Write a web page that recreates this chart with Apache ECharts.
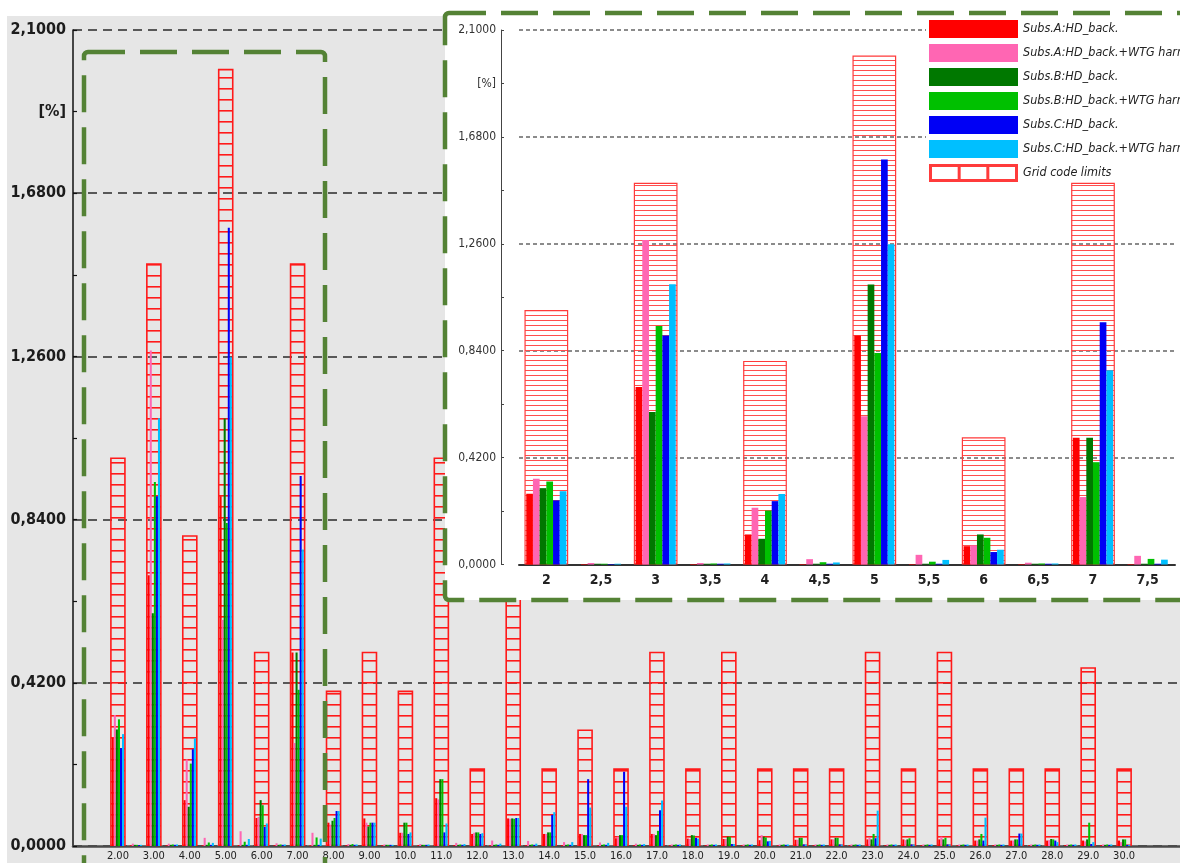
<!DOCTYPE html>
<html>
<head>
<meta charset="utf-8">
<script src="https://cdn.jsdelivr.net/npm/echarts@6/dist/echarts.min.js"></script>
<style>
  html, body { margin: 0; padding: 0; background: #ffffff; }
  #chart { width: 1180px; height: 863px; }
</style>
</head>
<body>
<div id="chart"></div>
<script>
// Harmonic orders (integer and inter-harmonic), in half steps from 2 to 30
const orders = ['2', '2.5', '3', '3.5', '4', '4.5', '5', '5.5', '6', '6.5', '7', '7.5',
  '8', '8.5', '9', '9.5', '10', '10.5', '11', '11.5', '12', '12.5', '13', '13.5',
  '14', '14.5', '15', '15.5', '16', '16.5', '17', '17.5', '18', '18.5', '19', '19.5',
  '20', '20.5', '21', '21.5', '22', '22.5', '23', '23.5', '24', '24.5', '25', '25.5',
  '26', '26.5', '27', '27.5', '28', '28.5', '29', '29.5', '30'];

// Harmonic distortion [%] per order
const subsA = [0.278, 0.002, 0.697, 0.002, 0.118, 0.002, 0.900, 0.002, 0.072, 0.002, 0.498, 0.002,
  0.060, 0.002, 0.071, 0.002, 0.034, 0.002, 0.123, 0.002, 0.031, 0.002, 0.071, 0.002,
  0.031, 0.002, 0.031, 0.002, 0.020, 0.002, 0.031, 0.002, 0.019, 0.002, 0.018, 0.002,
  0.015, 0.002, 0.016, 0.002, 0.017, 0.002, 0.017, 0.002, 0.017, 0.002, 0.017, 0.002,
  0.014, 0.002, 0.014, 0.002, 0.014, 0.002, 0.014, 0.002, 0.014];
const subsAWtg = [0.337, 0.006, 1.275, 0.006, 0.223, 0.021, 0.582, 0.038, 0.075, 0.007, 0.265, 0.034,
  0.055, 0.005, 0.060, 0.004, 0.034, 0.005, 0.120, 0.008, 0.034, 0.014, 0.070, 0.013,
  0.031, 0.010, 0.031, 0.009, 0.024, 0.006, 0.031, 0.004, 0.018, 0.004, 0.018, 0.004,
  0.028, 0.004, 0.016, 0.004, 0.017, 0.004, 0.021, 0.004, 0.015, 0.004, 0.024, 0.004,
  0.014, 0.004, 0.014, 0.004, 0.015, 0.004, 0.012, 0.004, 0.010];
const subsB = [0.300, 0.003, 0.599, 0.003, 0.101, 0.003, 1.100, 0.003, 0.118, 0.003, 0.498, 0.003,
  0.065, 0.003, 0.050, 0.003, 0.060, 0.003, 0.172, 0.003, 0.035, 0.003, 0.071, 0.003,
  0.035, 0.003, 0.028, 0.003, 0.028, 0.003, 0.028, 0.003, 0.028, 0.003, 0.024, 0.003,
  0.024, 0.003, 0.021, 0.003, 0.021, 0.003, 0.017, 0.003, 0.017, 0.003, 0.017, 0.003,
  0.017, 0.003, 0.017, 0.003, 0.018, 0.003, 0.017, 0.003, 0.017];
const subsBWtg = [0.326, 0.003, 0.937, 0.004, 0.212, 0.009, 0.831, 0.011, 0.105, 0.004, 0.402, 0.022,
  0.072, 0.005, 0.060, 0.003, 0.060, 0.003, 0.172, 0.004, 0.035, 0.004, 0.070, 0.004,
  0.035, 0.004, 0.028, 0.004, 0.028, 0.004, 0.039, 0.004, 0.027, 0.004, 0.024, 0.004,
  0.022, 0.004, 0.021, 0.004, 0.021, 0.004, 0.031, 0.004, 0.020, 0.004, 0.021, 0.004,
  0.031, 0.004, 0.017, 0.004, 0.017, 0.004, 0.060, 0.004, 0.017];
const subsC = [0.252, 0.002, 0.900, 0.003, 0.249, 0.003, 1.591, 0.003, 0.049, 0.003, 0.952, 0.003,
  0.090, 0.003, 0.060, 0.003, 0.031, 0.003, 0.035, 0.003, 0.031, 0.003, 0.072, 0.003,
  0.080, 0.003, 0.172, 0.003, 0.191, 0.003, 0.092, 0.003, 0.021, 0.003, 0.005, 0.003,
  0.012, 0.003, 0.004, 0.003, 0.004, 0.003, 0.020, 0.003, 0.004, 0.003, 0.004, 0.003,
  0.014, 0.003, 0.032, 0.003, 0.014, 0.003, 0.005, 0.003, 0.003];
const subsCWtg = [0.288, 0.003, 1.101, 0.004, 0.277, 0.008, 1.258, 0.018, 0.058, 0.004, 0.763, 0.019,
  0.090, 0.004, 0.060, 0.003, 0.035, 0.004, 0.058, 0.005, 0.033, 0.006, 0.072, 0.006,
  0.087, 0.010, 0.099, 0.008, 0.101, 0.005, 0.117, 0.004, 0.019, 0.004, 0.005, 0.004,
  0.013, 0.004, 0.004, 0.004, 0.004, 0.004, 0.091, 0.004, 0.004, 0.004, 0.004, 0.004,
  0.073, 0.004, 0.032, 0.004, 0.010, 0.004, 0.010, 0.004, 0.003];
// Grid code limits, defined for integer orders only
const gridLimits = [1.0, null, 1.5, null, 0.8, null, 2.0, null, 0.5, null, 1.5, null,
  0.4, null, 0.5, null, 0.4, null, 1.0, null, 0.2, null, 1.0, null,
  0.2, null, 0.3, null, 0.2, null, 0.5, null, 0.2, null, 0.5, null,
  0.2, null, 0.2, null, 0.2, null, 0.5, null, 0.2, null, 0.5, null,
  0.2, null, 0.2, null, 0.2, null, 0.46, null, 0.2];

// Value axis ticks [%] and its unit caption
const yMax = 2.1;
const yLabelStep = 0.42;
const yTickStep = 0.21;
const unitLabel = '[%]';
const unitAt = 1.89;

// Number of orders shown in the zoomed view (2 .. 7.5)
const zoomCount = 12;

const seriesDefs = [
  { name: 'Subs.A:HD_back.', data: subsA, color: '#ff0000' },
  { name: 'Subs.A:HD_back.+WTG harm.', data: subsAWtg, color: '#ff66b3' },
  { name: 'Subs.B:HD_back.', data: subsB, color: '#007800' },
  { name: 'Subs.B:HD_back.+WTG harm.', data: subsBWtg, color: '#00c000' },
  { name: 'Subs.C:HD_back.', data: subsC, color: '#0000f5' },
  { name: 'Subs.C:HD_back.+WTG harm.', data: subsCWtg, color: '#00bfff' }
];
const limitName = 'Grid code limits';

const FONT = "'Liberation Sans Narrow', 'DejaVu Sans Condensed', 'Roboto', sans-serif";

// the main axis runs from order 1 to 31.5; orders without measurements stay empty
const mainCats = ['1', '1.5'].concat(orders, ['30.5', '31', '31.5']);
const padMain = arr => [null, null].concat(arr, [null, null, null]);
const zoomCats = orders.slice(0, zoomCount);

// horizontal hatching used to fill the limit bars
function hatch(step, lineW, color) {
  const c = document.createElement('canvas');
  c.width = 8; c.height = step;
  const g = c.getContext('2d');
  g.fillStyle = color;
  g.fillRect(0, 0, 8, lineW);
  return { image: c, repeat: 'repeat' };
}

// legend symbol for the limits: red frame with three open cells
function limitIcon() {
  const w = 89, h = 18;
  const c = document.createElement('canvas');
  c.width = w; c.height = h;
  const g = c.getContext('2d');
  g.fillStyle = '#ff3b3b';
  g.fillRect(0, 0, w, h);
  g.fillStyle = '#ffffff';
  const cell = (w - 4 * 3) / 3;
  for (let i = 0; i < 3; i++) {
    g.fillRect(3 + i * (cell + 3), 3, cell, h - 6);
  }
  return 'image://' + c.toDataURL();
}

function yLabel(decSep) {
  return function (v) {
    if (Math.abs(v - unitAt) < 1e-6) return unitLabel;
    const k = Math.round(v / yLabelStep * 1000) / 1000;
    if (Math.abs(k - Math.round(k)) < 1e-6) return v.toFixed(4).replace('.', decSep);
    return '';
  };
}

const chart = echarts.init(document.getElementById('chart'), null, { renderer: 'canvas' });

const series = [];
// main view
series.push({
  type: 'bar', name: limitName, xAxisIndex: 1, yAxisIndex: 0,
  data: padMain(gridLimits), barWidth: '87%', z: 2, silent: true,
  itemStyle: { color: hatch(11, 1.6, '#ff1a1a'), borderColor: '#ff1a1a', borderWidth: 1.6 }
});
seriesDefs.forEach(s => series.push({
  type: 'bar', name: s.name, xAxisIndex: 0, yAxisIndex: 0,
  data: padMain(s.data), barWidth: 2.05, barGap: '0%', z: 3, silent: true,
  itemStyle: { color: s.color }
}));
// zoomed view
series.push({
  type: 'bar', name: limitName, xAxisIndex: 3, yAxisIndex: 2,
  data: gridLimits.slice(0, zoomCount), barWidth: '80%', z: 7, silent: true,
  itemStyle: { color: hatch(5, 1, '#ff4d4d'), borderColor: '#ff3a3a', borderWidth: 1.2 }
});
seriesDefs.forEach(s => series.push({
  type: 'bar', name: s.name, xAxisIndex: 2, yAxisIndex: 2,
  data: s.data.slice(0, zoomCount), barWidth: 6.7, barGap: '0%', z: 8, silent: true,
  itemStyle: { color: s.color }
}));

const option = {
  animation: false,
  backgroundColor: '#ffffff',
  grid: [
    { left: 73, right: -7, top: 30, bottom: 17, containLabel: false, outerBoundsMode: 'none' },
    { left: 519, right: 5, top: 30, bottom: 298.5, containLabel: false, outerBoundsMode: 'none' }
  ],
  xAxis: [
    {
      gridIndex: 0, type: 'category', data: mainCats, z: 1,
      axisLine: { lineStyle: { color: '#4a4a4a', width: 2.5 } },
      axisTick: { show: false },
      axisLabel: {
        interval: 0, margin: 5, fontSize: 11, color: '#222', fontFamily: FONT,
        formatter: v => {
          const n = Number(v);
          if (!Number.isInteger(n) || n < 2 || n > 30) return '';
          return n < 10 ? n.toFixed(2) : n.toFixed(1);
        }
      },
      splitLine: { show: false }
    },
    { gridIndex: 0, type: 'category', data: mainCats, show: false },
    {
      gridIndex: 1, type: 'category', data: zoomCats, z: 6,
      axisLine: { lineStyle: { color: '#333', width: 2 } },
      axisTick: { show: false },
      axisLabel: {
        interval: 0, margin: 9, fontSize: 14, fontWeight: 'bold', color: '#222', fontFamily: FONT,
        formatter: v => v.replace('.', ',')
      },
      splitLine: { show: false }
    },
    { gridIndex: 1, type: 'category', data: zoomCats, show: false }
  ],
  yAxis: [
    {
      gridIndex: 0, type: 'value', min: 0, max: yMax, interval: yTickStep, z: 1,
      axisLine: { show: true, lineStyle: { color: '#111', width: 1.5 } },
      axisTick: { show: true, inside: true, length: 4, lineStyle: { color: '#111', width: 1.2 } },
      axisLabel: { margin: 7, fontSize: 16, fontWeight: 'bold', color: '#1c1c1c', fontFamily: FONT, formatter: yLabel(',') },
      splitLine: { show: false }
    },
    {
      gridIndex: 0, type: 'value', min: 0, max: yMax, interval: yLabelStep, z: 1,
      axisLine: { show: false }, axisTick: { show: false }, axisLabel: { show: false },
      splitLine: { show: true, lineStyle: { color: '#2a2a2a', width: 1.5, type: [9, 6] } }
    },
    {
      gridIndex: 1, type: 'value', min: 0, max: yMax, interval: yTickStep, offset: 18, z: 6,
      axisLine: { show: true, lineStyle: { color: '#444', width: 1 } },
      axisTick: { show: true, inside: true, length: 3, lineStyle: { color: '#444' } },
      axisLabel: { margin: 5, fontSize: 12, color: '#333', fontFamily: FONT, formatter: yLabel(',') },
      splitLine: { show: false }
    },
    {
      gridIndex: 1, type: 'value', min: 0, max: yMax, interval: yLabelStep, z: 6,
      axisLine: { show: false }, axisTick: { show: false }, axisLabel: { show: false },
      splitLine: { show: true, lineStyle: { color: '#666', width: 1.5, type: [4, 3] } }
    }
  ],
  legend: {
    orient: 'vertical', left: 926, top: 17, z: 9,
    itemWidth: 89, itemHeight: 18, itemGap: 6, icon: 'rect',
    backgroundColor: '#ffffff', padding: [3, 0, 0, 3], selectedMode: false,
    textStyle: { fontSize: 12.5, fontStyle: 'italic', color: '#222', fontFamily: FONT },
    data: seriesDefs.map(s => s.name).concat([{ name: limitName, icon: limitIcon() }])
  },
  graphic: {
    elements: [
      { type: 'rect', silent: true, z: -10, shape: { x: 7, y: 16, width: 1173, height: 847 }, style: { fill: '#e6e6e6' } },
      { type: 'rect', silent: true, z: 5, shape: { x: 445, y: 13, width: 745, height: 587 }, style: { fill: '#ffffff' } },
      { type: 'rect', silent: true, z: 5, shape: { x: 84, y: 52, width: 241, height: 860, r: 4 },
        style: { fill: 'none', stroke: '#548235', lineWidth: 4.5, lineDash: [37, 15] } },
      { type: 'rect', silent: true, z: 10, shape: { x: 445, y: 13, width: 760, height: 587, r: 4 },
        style: { fill: 'none', stroke: '#548235', lineWidth: 4.5, lineDash: [37, 15] } }
    ]
  },
  series: series
};

chart.setOption(option);
</script>
</body>
</html>
